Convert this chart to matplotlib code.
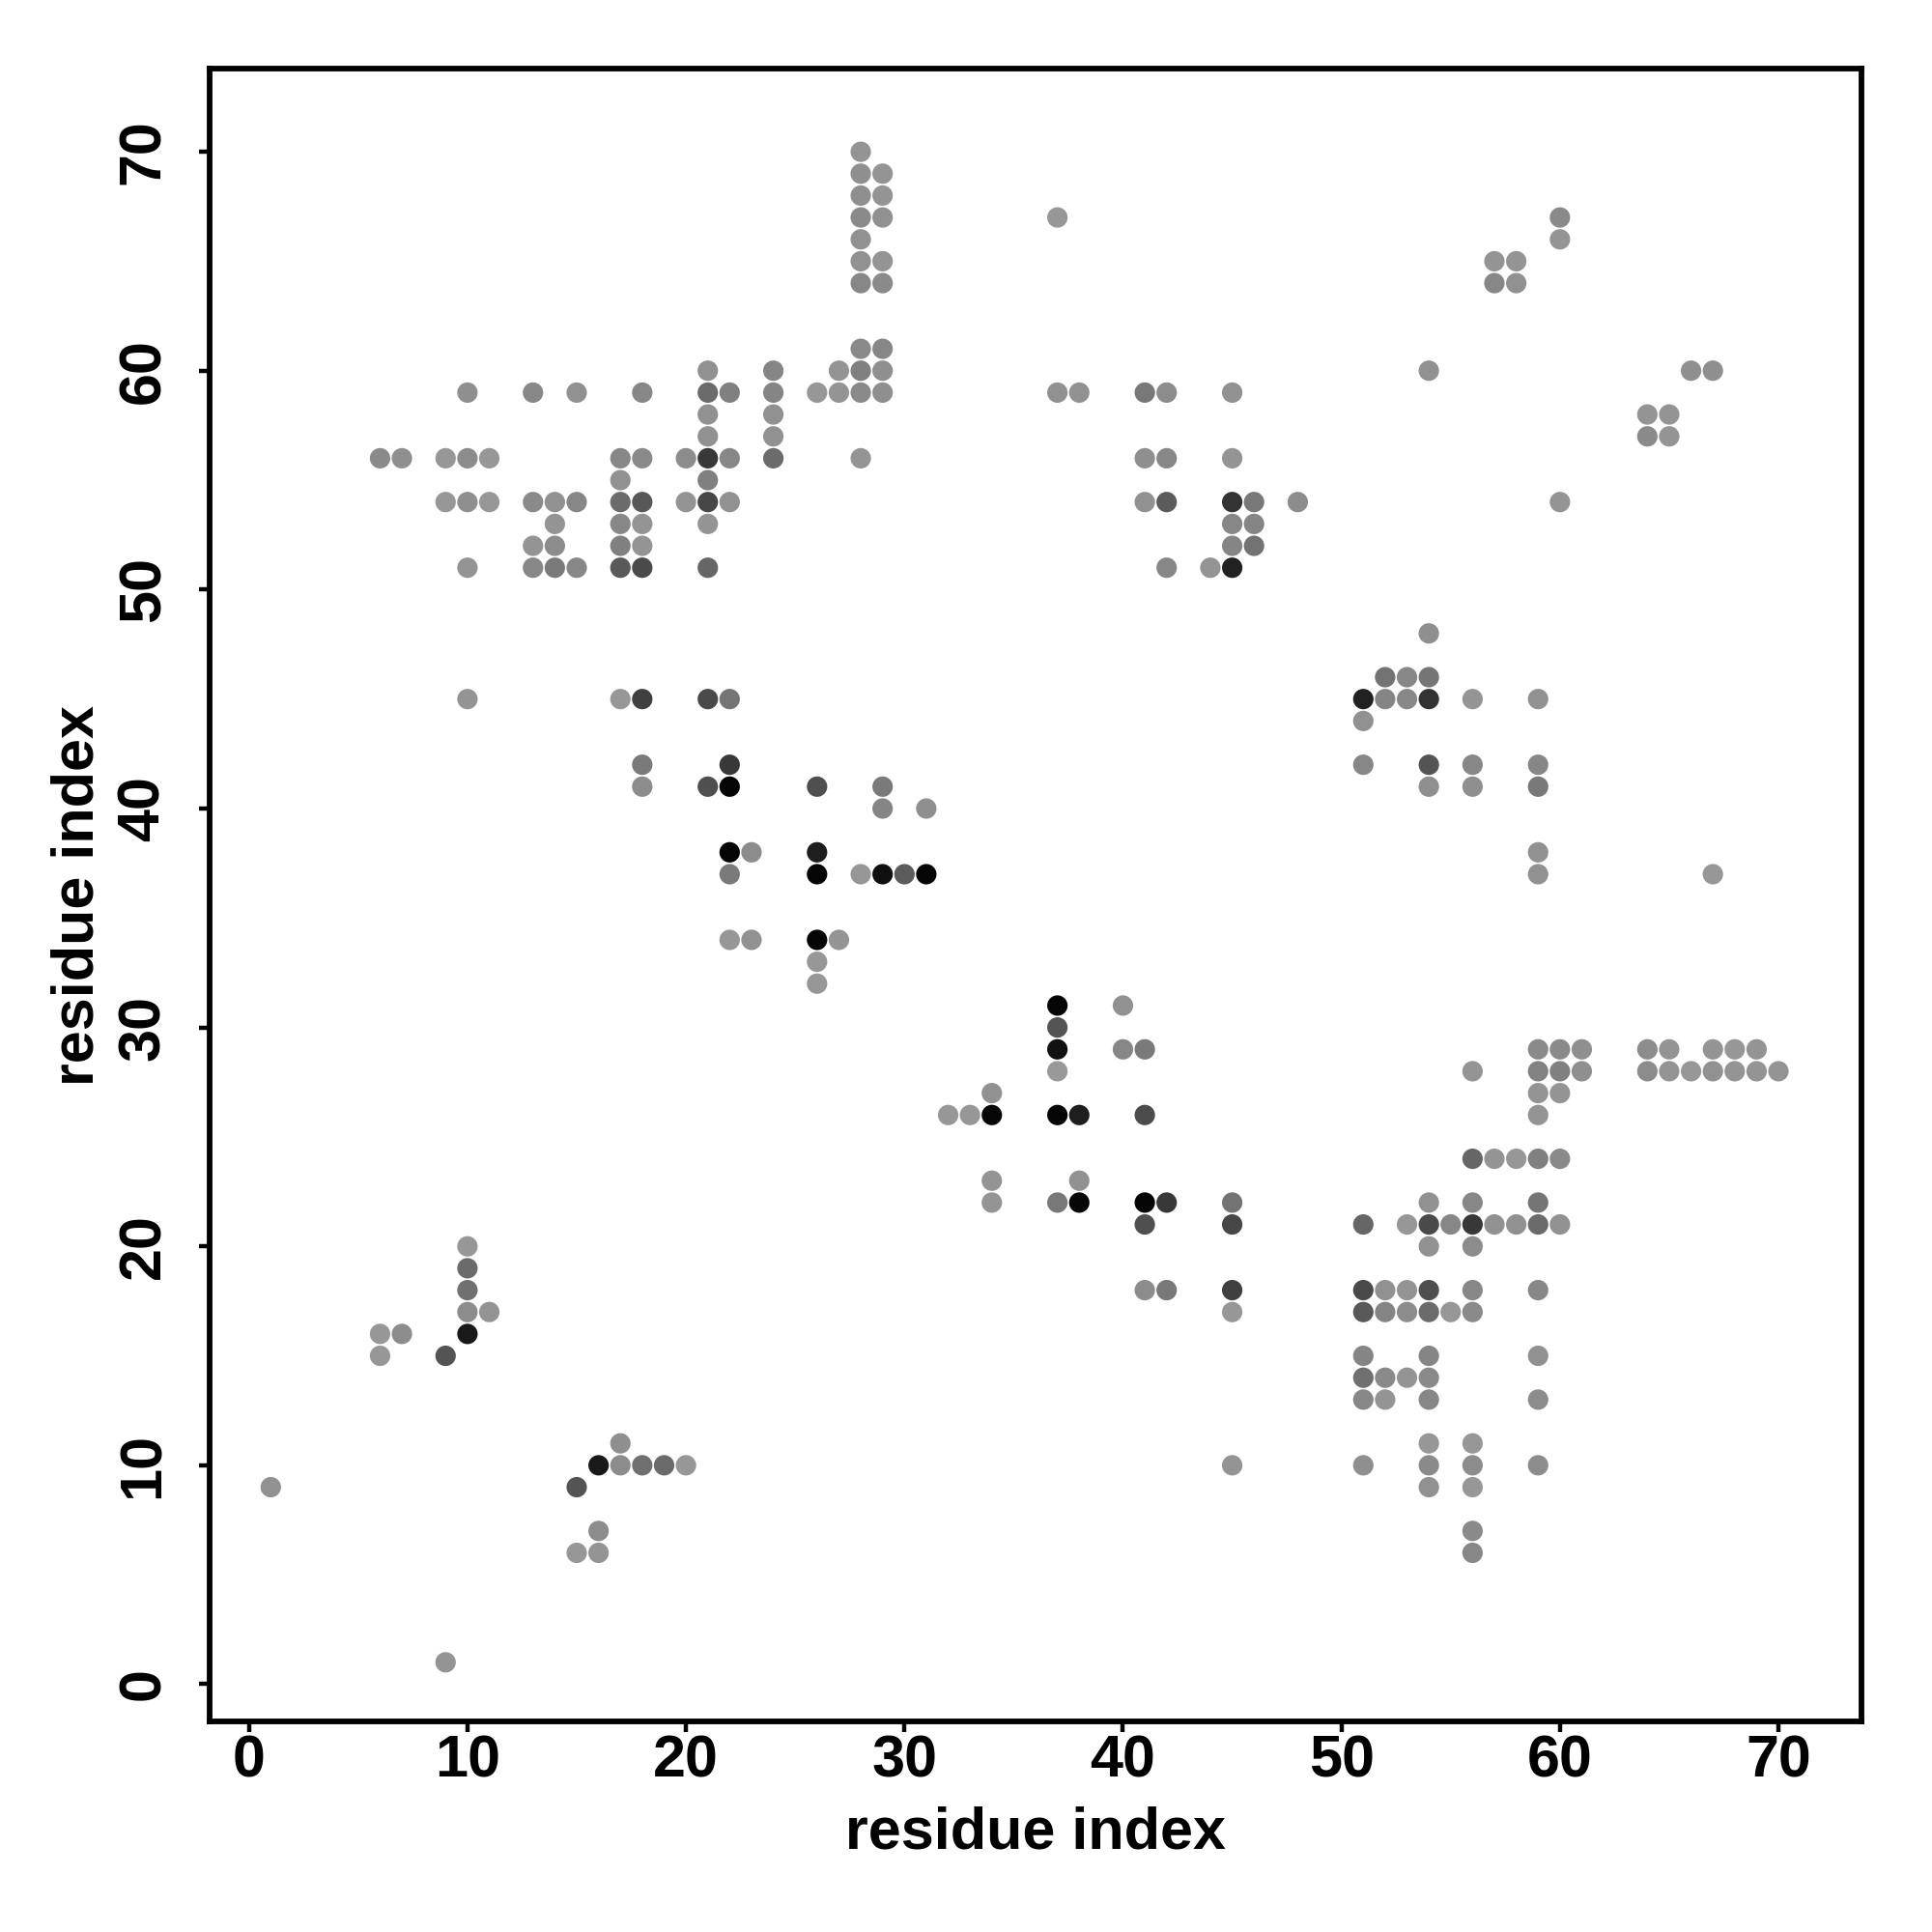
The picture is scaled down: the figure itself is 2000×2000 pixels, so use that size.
import matplotlib
matplotlib.use("Agg")
import matplotlib.pyplot as plt

# contact map: residue pairs and grey level of each dot (0 = black, 1 = white)
res_i = [
    1, 9, 6, 7, 6, 9, 10, 10, 11, 10, 10, 10,
    15, 16, 17, 18, 19, 20, 17, 15, 16, 16,
    32, 33, 34, 34, 34, 34,
    37, 37, 37, 37, 37, 38, 38, 37, 38,
    40, 40, 41, 41, 41, 42, 41, 41, 42,
    45, 45, 45, 45, 45,
    51, 53, 54, 55, 56, 57, 58, 59, 60,
    54, 56, 59, 54, 56,
    56, 57, 58, 59, 60,
    51, 52, 53, 54, 56, 59,
    51, 52, 53, 54, 55, 56,
    51, 54, 59,
    51, 52, 53, 54,
    51, 52, 54, 59,
    54, 56,
    51, 54, 56, 59,
    54, 56, 56, 56,
    56, 59, 60, 61, 59, 60, 61, 59, 60, 59,
    64, 65, 67, 68, 69,
    64, 65, 66, 67, 68, 69, 70,
    10, 17, 18, 21, 22,
    18, 22, 18, 21, 22,
    22, 23, 22, 22, 23,
    26, 29, 29, 31,
    26, 26, 28, 29, 30, 31,
    26, 27, 26, 26,
    51, 51, 51,
    52, 53, 54, 52, 53, 54,
    54, 54, 54,
    56, 56, 56,
    59, 59, 59, 59, 59, 67,
    37, 37, 38,
    41, 42, 41, 42, 41, 42, 42,
    44, 45, 45, 45, 45, 46, 48,
    45, 46, 45, 46,
    6, 7, 9, 10, 11, 9, 10, 11, 10, 10,
    13, 15, 13, 14, 15, 14, 13, 14, 13, 14, 15,
    17, 18, 17, 17, 18, 17, 18, 17, 18, 17, 18, 18,
    20, 21, 22, 20, 21, 22,
    21, 21, 21, 21, 21, 22, 21, 21,
    24, 24, 24, 24, 24,
    26, 27, 27, 28, 29, 28, 29, 28, 29, 28,
    28, 28, 29, 28, 29, 28, 29, 28, 28, 29, 28, 29,
    54, 57, 58, 57, 58, 60, 60, 60, 64, 65, 64, 65, 66, 67,
]

res_j = [
    9, 1, 16, 16, 15, 15, 16, 17, 17, 18, 19, 20,
    9, 10, 10, 10, 10, 10, 11, 6, 6, 7,
    26, 26, 26, 27, 23, 22,
    31, 30, 29, 28, 26, 26, 23, 22, 22,
    31, 29, 29, 26, 22, 22, 21, 18, 18,
    22, 21, 18, 17, 10,
    21, 21, 21, 21, 21, 21, 21, 21, 21,
    22, 22, 22, 20, 20,
    24, 24, 24, 24, 24,
    18, 18, 18, 18, 18, 18,
    17, 17, 17, 17, 17, 17,
    15, 15, 15,
    14, 14, 14, 14,
    13, 13, 13, 13,
    11, 11,
    10, 10, 10, 10,
    9, 9, 7, 6,
    28, 29, 29, 29, 28, 28, 28, 27, 27, 26,
    29, 29, 29, 29, 29,
    28, 28, 28, 28, 28, 28, 28,
    45, 45, 45, 45, 45,
    42, 42, 41, 41, 41,
    38, 38, 37, 34, 34,
    41, 41, 40, 40,
    38, 37, 37, 37, 37, 37,
    34, 34, 33, 32,
    45, 44, 42,
    46, 46, 46, 45, 45, 45,
    48, 42, 41,
    45, 42, 41,
    45, 42, 41, 38, 37, 37,
    67, 59, 59,
    59, 59, 56, 56, 54, 54, 51,
    51, 51, 59, 56, 54, 54, 54,
    53, 53, 52, 52,
    56, 56, 56, 56, 56, 54, 54, 54, 59, 51,
    59, 59, 54, 54, 54, 53, 52, 52, 51, 51, 51,
    56, 56, 55, 54, 54, 53, 53, 52, 52, 51, 51, 59,
    56, 56, 56, 54, 54, 54,
    55, 53, 57, 58, 59, 59, 60, 51,
    60, 59, 58, 57, 56,
    59, 59, 60, 60, 60, 61, 61, 59, 59, 56,
    70, 69, 69, 68, 68, 67, 67, 66, 65, 65, 64, 64,
    60, 65, 65, 64, 64, 67, 66, 54, 58, 58, 57, 57, 60, 60,
]

grey = [
    0.57, 0.58, 0.59, 0.55, 0.59, 0.33, 0.10, 0.55, 0.58, 0.44, 0.42, 0.59,
    0.33, 0.10, 0.55, 0.44, 0.42, 0.59, 0.56, 0.59, 0.58, 0.55,
    0.59, 0.59, 0.03, 0.57, 0.58, 0.58,
    0.02, 0.33, 0.07, 0.60, 0.02, 0.12, 0.57, 0.47, 0.03,
    0.57, 0.53, 0.48, 0.30, 0.02, 0.22, 0.31, 0.55, 0.47,
    0.45, 0.28, 0.25, 0.59, 0.58,
    0.40, 0.59, 0.29, 0.53, 0.22, 0.57, 0.57, 0.42, 0.57,
    0.57, 0.53, 0.46, 0.57, 0.55,
    0.40, 0.58, 0.59, 0.50, 0.54,
    0.29, 0.57, 0.58, 0.31, 0.53, 0.53,
    0.35, 0.52, 0.55, 0.42, 0.59, 0.54,
    0.52, 0.52, 0.57,
    0.44, 0.54, 0.58, 0.54,
    0.53, 0.58, 0.53, 0.55,
    0.59, 0.59,
    0.56, 0.54, 0.55, 0.55,
    0.57, 0.59, 0.54, 0.53,
    0.58, 0.54, 0.54, 0.56, 0.51, 0.50, 0.56, 0.58, 0.58, 0.58,
    0.55, 0.58, 0.58, 0.59, 0.58,
    0.55, 0.58, 0.59, 0.57, 0.58, 0.58, 0.58,
    0.58, 0.59, 0.25, 0.29, 0.46,
    0.48, 0.22, 0.55, 0.31, 0.02,
    0.02, 0.55, 0.48, 0.59, 0.57,
    0.31, 0.48, 0.52, 0.56,
    0.12, 0.02, 0.59, 0.06, 0.36, 0.02,
    0.02, 0.58, 0.59, 0.59,
    0.13, 0.57, 0.53,
    0.45, 0.53, 0.46, 0.52, 0.53, 0.20,
    0.56, 0.33, 0.56,
    0.58, 0.53, 0.56,
    0.57, 0.53, 0.47, 0.57, 0.57, 0.59,
    0.59, 0.57, 0.57,
    0.47, 0.55, 0.56, 0.53, 0.57, 0.36, 0.53,
    0.58, 0.13, 0.57, 0.58, 0.20, 0.47, 0.55,
    0.53, 0.52, 0.52, 0.45,
    0.54, 0.56, 0.59, 0.55, 0.59, 0.59, 0.56, 0.59, 0.56, 0.58,
    0.53, 0.57, 0.54, 0.57, 0.53, 0.58, 0.58, 0.55, 0.53, 0.48, 0.53,
    0.53, 0.54, 0.57, 0.42, 0.34, 0.53, 0.58, 0.50, 0.58, 0.35, 0.29, 0.53,
    0.55, 0.22, 0.53, 0.58, 0.28, 0.57,
    0.50, 0.58, 0.57, 0.57, 0.42, 0.50, 0.57, 0.40,
    0.52, 0.52, 0.57, 0.57, 0.42,
    0.59, 0.58, 0.58, 0.50, 0.56, 0.54, 0.53, 0.54, 0.56, 0.58,
    0.58, 0.56, 0.58, 0.56, 0.58, 0.54, 0.57, 0.57, 0.57, 0.58, 0.53, 0.54,
    0.57, 0.58, 0.58, 0.53, 0.57, 0.54, 0.58, 0.58, 0.58, 0.58, 0.54, 0.58, 0.56, 0.56,
]

tick_values = [0, 10, 20, 30, 40, 50, 60, 70]
axis_title = "residue index"

plt.rcParams["font.family"] = ["Liberation Sans", "DejaVu Sans"]
plt.rcParams["font.weight"] = "bold"

fig = plt.figure(figsize=(10, 10), dpi=200)
ax = fig.add_axes([0.1085, 0.109, 0.855, 0.8555])

ax.scatter(res_i, res_j, c=grey, cmap="gray", vmin=0, vmax=1,
           s=58, linewidths=0, zorder=3)

ax.set_xlim(-1.8, 73.8)
ax.set_ylim(-1.7, 73.8)
ax.set_xticks(tick_values)
ax.set_yticks(tick_values)

for side in ["top", "right", "bottom", "left"]:
    ax.spines[side].set_linewidth(2.1)

ax.tick_params(axis="both", direction="out", length=4, width=1.6, labelsize=22)
ax.tick_params(axis="x", pad=1)
ax.tick_params(axis="y", pad=10)
for lbl in ax.get_yticklabels():
    lbl.set_rotation(90)
    lbl.set_va("center")
for lbl in ax.get_xticklabels() + ax.get_yticklabels():
    lbl.set_fontweight("bold")

ax.set_xlabel(axis_title, fontsize=22, fontweight="bold", labelpad=6)
ax.set_ylabel(axis_title, fontsize=22, fontweight="bold", labelpad=4)

fig.savefig("out.png", dpi=200)
